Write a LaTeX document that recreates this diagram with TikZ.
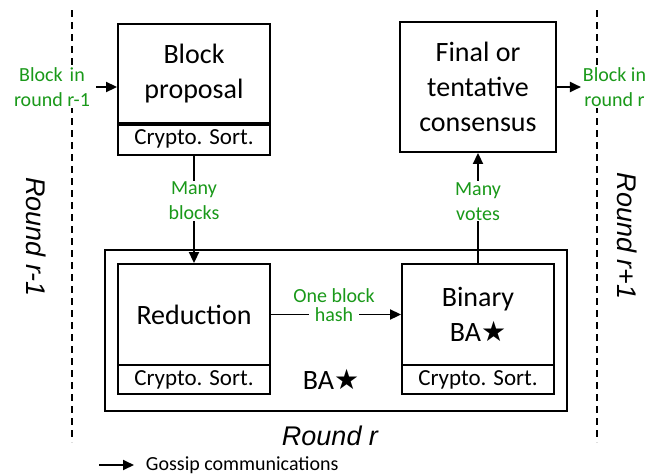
\documentclass[tikz,border=0pt]{standalone}
\usepackage{fontspec}
\setmainfont{Carlito}
\newfontfamily\roundfont{Liberation Sans}
\newfontfamily\starfont{DejaVu Sans}
\usepackage{tikz}
\usetikzlibrary{arrows.meta,positioning}
\definecolor{lblgreen}{RGB}{26,153,26}
\newcommand{\bastar}{BA{\starfont ★}}

\begin{document}
\begin{tikzpicture}[x=1pt, y=-1pt, line width=1.9pt]
\useasboundingbox (0,0) rectangle (668,474);
\tikzstyle{box} = [draw, rectangle, inner sep=0pt, minimum width=152pt, align=center, font=\fontsize{28}{35}\selectfont]
\tikzstyle{sort} = [draw, rectangle, inner sep=0pt, minimum width=152pt, font=\fontsize{23}{28}\selectfont]
\tikzstyle{lbl} = [text=lblgreen, align=center, inner sep=1pt, font=\fontsize{20}{25}\selectfont]
\tikzstyle{gossip} = [-{Triangle[length=11pt,width=10pt]}, line width=1.9pt]
\tikzstyle{rnd} = [font=\fontsize{27}{32}\selectfont\roundfont\itshape]

% round borders
\draw[dash pattern=on 7pt off 5pt] (72,10) -- (72,442);
\draw[dash pattern=on 7pt off 5pt] (597,10) -- (597,442);
\node[rnd, rotate=-90] (rprev) at (36,237) {Round r-1};
\node[rnd, rotate=-90] (rnext) at (627,236) {Round r+1};
\node[rnd] (rcur) at (330,436) {Round r};

% block proposal
\node[box, minimum height=99pt] (prop) at (194,73.5) {Block\\proposal};
\node[sort, minimum height=32pt] (propsort) at (194,139) {Crypto. Sort.};
\draw[line width=3.8pt] (prop.south west) -- (prop.south east);

% BA*
\node[draw, rectangle, minimum width=462pt, minimum height=161pt] (ba) at (336,330.5) {};
\node[box, minimum height=101pt] (red) at (194,314.5) {Reduction};
\node[sort, minimum height=29pt] (redsort) at (194,379.5) {Crypto. Sort.};
\node[box, minimum height=101pt] (bin) at (478,314.5) {Binary\\\bastar};
\node[sort, minimum height=29pt] (binsort) at (478,379.5) {Crypto. Sort.};
\node[font=\fontsize{28}{35}\selectfont] (batxt) at (331,379) {\bastar};

% final
\node[box, minimum width=156pt, minimum height=130pt] (final) at (478,87) {Final or\\tentative\\consensus};

% gossip
\coordinate (in0) at (96,87);
\draw[gossip] (in0) -- (in0 -| prop.west);
\node[lbl, fill=white] (blkprev) at (52,87) {Block\hspace{0.35em}in\\round r-1};
\draw[gossip] (final.east) -- ++(24,0) coordinate (out0);
\node[lbl, fill=white, anchor=west] (blkcur) at (out0) {Block in\\round r};
\draw[gossip] (propsort.south) -- node[lbl, fill=white, pos=0.42] (manyb) {Many\\blocks} (red.north);
\draw[gossip] (bin.north) -- node[lbl, fill=white, pos=0.56] (manyv) {Many\\votes} (final.south);
\draw[gossip] (red.east) -- node[lbl, fill=white, inner xsep=6pt, pos=0.485, label={[lbl, inner sep=0pt, yshift=2pt]above:One block}] (hash) {hash} (bin.west);

% legend
\coordinate (leg0) at (99,465);
\draw[gossip] (leg0) -- ++(35,0) coordinate (leg1);
\node[right=11pt of leg1, inner sep=0pt, font=\fontsize{20}{24}\selectfont] (legtxt) {Gossip communications};
\end{tikzpicture}
\end{document}
